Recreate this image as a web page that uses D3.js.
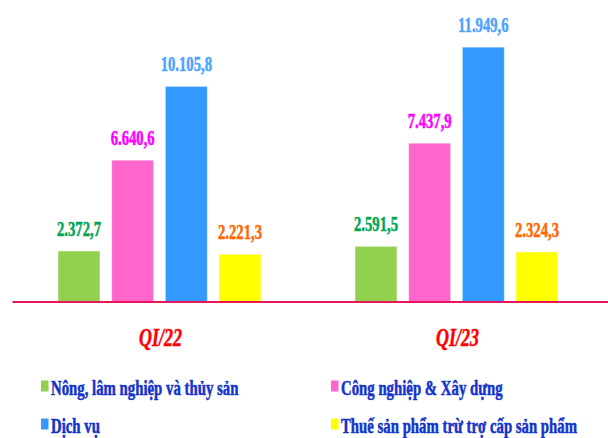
<!DOCTYPE html>
<html>
<head>
    <meta charset="utf-8">
    <title>GDP QI</title>
    <style>
        body { margin: 0; background: #fff; }
        text { font-family: "Liberation Serif", "Times New Roman", serif; font-weight: bold; stroke-width: 0.5px; }
    </style>
    <script src="https://d3js.org/d3.v7.min.js"></script>
</head>
<body>
<svg width="608" height="438"></svg>
<script>

    var groups = ["QI/22", "QI/23"]
    var series = ["Nông, lâm nghiệp và thủy sản", "Công nghiệp & Xây dựng", "Dịch vụ", "Thuế sản phẩm trừ trợ cấp sản phẩm"]
    var values22 = [2372.7, 6640.6, 10105.8, 2221.3]
    var values23 = [2591.5, 7437.9, 11949.6, 2324.3]
    var valueLabels22 = ["2.372,7", "6.640,6", "10.105,8", "2.221,3"]
    var valueLabels23 = ["2.591,5", "7.437,9", "11.949,6", "2.324,3"]

    var barColors = ["#92d050", "#ff66cc", "#3399ff", "#ffff00"]
    var labelColors = ["#00a651", "#ff00ff", "#4da3ff", "#ff6600"]

    var data = [
        { group: groups[0], values: values22, labels: valueLabels22 },
        { group: groups[1], values: values23, labels: valueLabels23 }
    ]

    var svg = d3.select("svg")
    var baseY = 301.5

    var x0 = d3.scaleBand().domain(groups).range([58, 558]).paddingInner(0.3165)
    var x1 = d3.scaleBand().domain(d3.range(series.length)).range([0, x0.bandwidth()]).paddingInner(0.218)
    var y = d3.scaleLinear().domain([0, 14000]).range([baseY, baseY - 298])

    var g = svg.selectAll(".grp")
        .data(data)
        .enter().append("g")
        .attr("class", "grp")
        .attr("transform", function(d) { return "translate(" + x0(d.group) + ",0)" })

    g.selectAll("rect")
        .data(function(d) { return d.values })
        .enter().append("rect")
        .attr("x", function(d, i) { return x1(i) })
        .attr("y", function(d) { return y(d) })
        .attr("width", x1.bandwidth())
        .attr("height", function(d) { return baseY - y(d) })
        .attr("fill", function(d, i) { return barColors[i] })
        .attr("stroke", "#ffffff")
        .attr("stroke-opacity", 0.45)
        .attr("stroke-width", 1)

    g.selectAll(".val")
        .data(function(d) { return d.values.map(function(v, i) { return { v: v, t: d.labels[i], i: i } }) })
        .enter().append("text")
        .attr("class", "val")
        .attr("transform", function(d) {
            return "translate(" + (x1(d.i) + x1.bandwidth() / 2) + "," + (y(d.v) - 15) + ") scale(0.7,1)"
        })
        .attr("text-anchor", "middle")
        .attr("font-size", "21px")
        .attr("fill", function(d) { return labelColors[d.i] })
        .attr("stroke", function(d) { return labelColors[d.i] })
        .text(function(d) { return d.t })

    // baseline
    svg.append("g")
        .attr("transform", "translate(0," + baseY + ")")
        .call(d3.axisBottom(d3.scaleLinear().range([12, 608])).ticks(0).tickSizeOuter(0))
        .select(".domain")
        .attr("stroke", "#e8175d")
        .attr("stroke-width", 2)

    svg.selectAll(".cat")
        .data(groups)
        .enter().append("text")
        .attr("class", "cat")
        .attr("transform", function(d) { return "translate(" + (x0(d) + x0.bandwidth() / 2 + 1) + ",346) scale(0.72,1)" })
        .attr("text-anchor", "middle")
        .attr("font-size", "25px")
        .attr("font-style", "italic")
        .attr("fill", "#ff0000")
        .attr("stroke", "#ff0000")
        .text(function(d) { return d })

    // legend
    var legX = [41, 331], legY = [395, 433]
    var leg = svg.selectAll(".leg")
        .data(series)
        .enter().append("g")
        .attr("class", "leg")
        .attr("transform", function(d, i) { return "translate(" + legX[i % 2] + "," + legY[Math.floor(i / 2)] + ")" })

    leg.append("rect")
        .attr("x", 0)
        .attr("y", -14.5)
        .attr("width", 7.5)
        .attr("height", 11)
        .attr("fill", function(d, i) { return barColors[i] })

    leg.append("text")
        .attr("transform", "translate(10,0) scale(0.74,1)")
        .attr("font-size", "20px")
        .attr("fill", "#1433c8")
        .attr("stroke", "#1433c8")
        .attr("stroke-width", 0.4)
        .text(function(d) { return d })

</script>
</body>
</html>
